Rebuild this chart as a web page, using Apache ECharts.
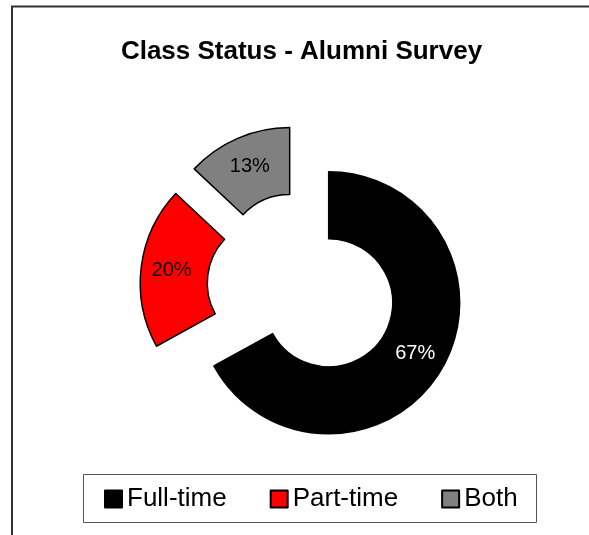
<!DOCTYPE html>
<html>
<head>
<meta charset="utf-8">
<script src="https://cdn.jsdelivr.net/npm/echarts@6/dist/echarts.min.js"></script>
<style>
html,body{margin:0;padding:0;background:#fff;}
#chart{width:589px;height:535px;}
</style>
</head>
<body>
<div id="chart"></div>
<script>
const titleText = 'Class Status - Alumni Survey';
const categories = ['Full-time', 'Part-time', 'Both'];
const values = [67, 20, 13];
const sliceColors = ['#000000', '#ff0000', '#808080'];
const labelColors = ['#ffffff', '#000000', '#000000'];

const FONT = '"Liberation Sans", Arial, Helvetica, sans-serif';
const chart = echarts.init(document.getElementById('chart'), null, {renderer: 'canvas'});

const pieData = categories.map((name, i) => ({
  name: name,
  value: values[i],
  selected: true,
  itemStyle: {color: sliceColors[i], borderColor: '#000', borderWidth: 1.5},
  label: {color: labelColors[i]}
}));

chart.setOption({
  animation: false,
  backgroundColor: '#ffffff',
  title: {
    text: titleText,
    left: 301.5,
    top: 39,
    textAlign: 'center',
    padding: 0,
    textStyle: {fontFamily: FONT, fontSize: 26, fontWeight: 'bold', color: '#000', lineHeight: 26}
  },
  legend: {
    data: categories,
    left: 104,
    top: 486,
    orient: 'horizontal',
    padding: 0,
    itemWidth: 17,
    itemHeight: 17,
    itemGap: 43,
    icon: 'rect',
    selectedMode: false,
    textStyle: {fontFamily: FONT, fontSize: 26, color: '#000', lineHeight: 26}
  },
  graphic: [
    {type: 'rect', shape: {x: 12, y: 6.5, width: 700, height: 700}, style: {fill: 'none', stroke: '#333', lineWidth: 2}, silent: true, z: 100},
    {type: 'rect', shape: {x: 83.5, y: 474.5, width: 453, height: 48}, style: {fill: 'none', stroke: '#555', lineWidth: 1}, silent: true, z: 100}
  ],
  series: [{
    type: 'pie',
    center: [302, 287],
    radius: [64, 131],
    startAngle: 90,
    clockwise: true,
    selectedMode: 'multiple',
    selectedOffset: 31,
    avoidLabelOverlap: false,
    emphasis: {disabled: true, scale: false},
    label: {
      show: true,
      position: 'inside',
      formatter: '{c}%',
      fontFamily: FONT,
      fontSize: 20
    },
    labelLine: {show: false},
    data: pieData
  }]
});
</script>
</body>
</html>
